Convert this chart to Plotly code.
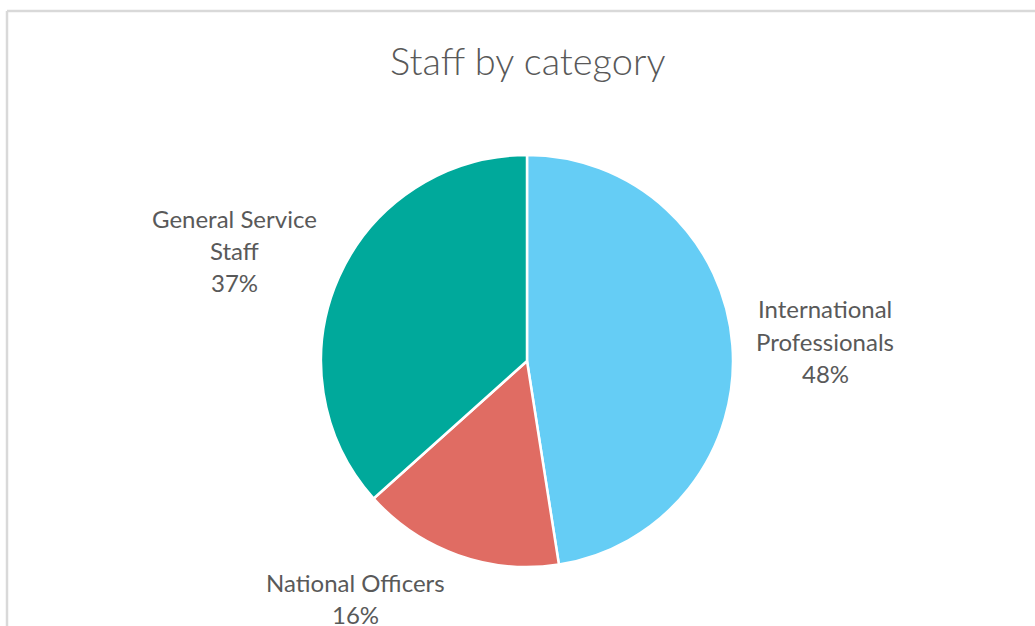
import plotly.graph_objects as go

# Staff share by category (percent)
categories = ["International Professionals", "National Officers", "General Service Staff"]
label_lines = [["International", "Professionals"], ["National Officers"], ["General Service", "Staff"]]
shares = [48, 16, 37]
colors = ["#65CDF5", "#E06C63", "#00A99B"]

W, H = 1035, 626
cx, cy, r = 527, 361, 206

# label block centres in pixels (x, y of block middle)
label_pos = [(825, 341), (355, 598), (234, 251)]
line_h = 32
FONT = "Lato"

fig = go.Figure(
    go.Pie(
        labels=categories,
        values=shares,
        sort=False,
        direction="clockwise",
        rotation=0,
        marker=dict(colors=colors, line=dict(color="white", width=2.5)),
        textinfo="none",
        hoverinfo="label+value",
        showlegend=False,
        domain=dict(x=[(cx - r) / W, (cx + r) / W], y=[1 - (cy + r) / H, 1 - (cy - r) / H]),
    )
)

annotations = []
for lines, val, (lx, ly) in zip(label_lines, shares, label_pos):
    texts = lines + [f"{val}%"]
    n = len(texts)
    for i, t in enumerate(texts):
        y = ly + (i - (n - 1) / 2) * line_h
        annotations.append(dict(
            text=t, x=lx / W, y=1 - y / H, xref="paper", yref="paper",
            xanchor="center", yanchor="middle", showarrow=False,
            font=dict(family=FONT, size=24, color="#595959"),
        ))

annotations.append(dict(
    text="Staff by category", x=cx / W, y=1 - 60 / H, xref="paper", yref="paper",
    xanchor="center", yanchor="middle", showarrow=False,
    font=dict(family=FONT, size=38, color="#595959", weight=300),
))

shapes = [
    dict(type="line", xref="paper", yref="paper", x0=7 / W, x1=1.02, y0=1 - 11 / H, y1=1 - 11 / H,
         line=dict(color="#D9D9D9", width=2.5)),
    dict(type="line", xref="paper", yref="paper", x0=7 / W, x1=7 / W, y0=-0.02, y1=1 - 11 / H,
         line=dict(color="#D9D9D9", width=2.5)),
]

fig.update_layout(
    width=W, height=H,
    margin=dict(l=0, r=0, t=0, b=0),
    paper_bgcolor="white",
    plot_bgcolor="white",
    annotations=annotations,
    shapes=shapes,
)

fig.write_html("out.html")
